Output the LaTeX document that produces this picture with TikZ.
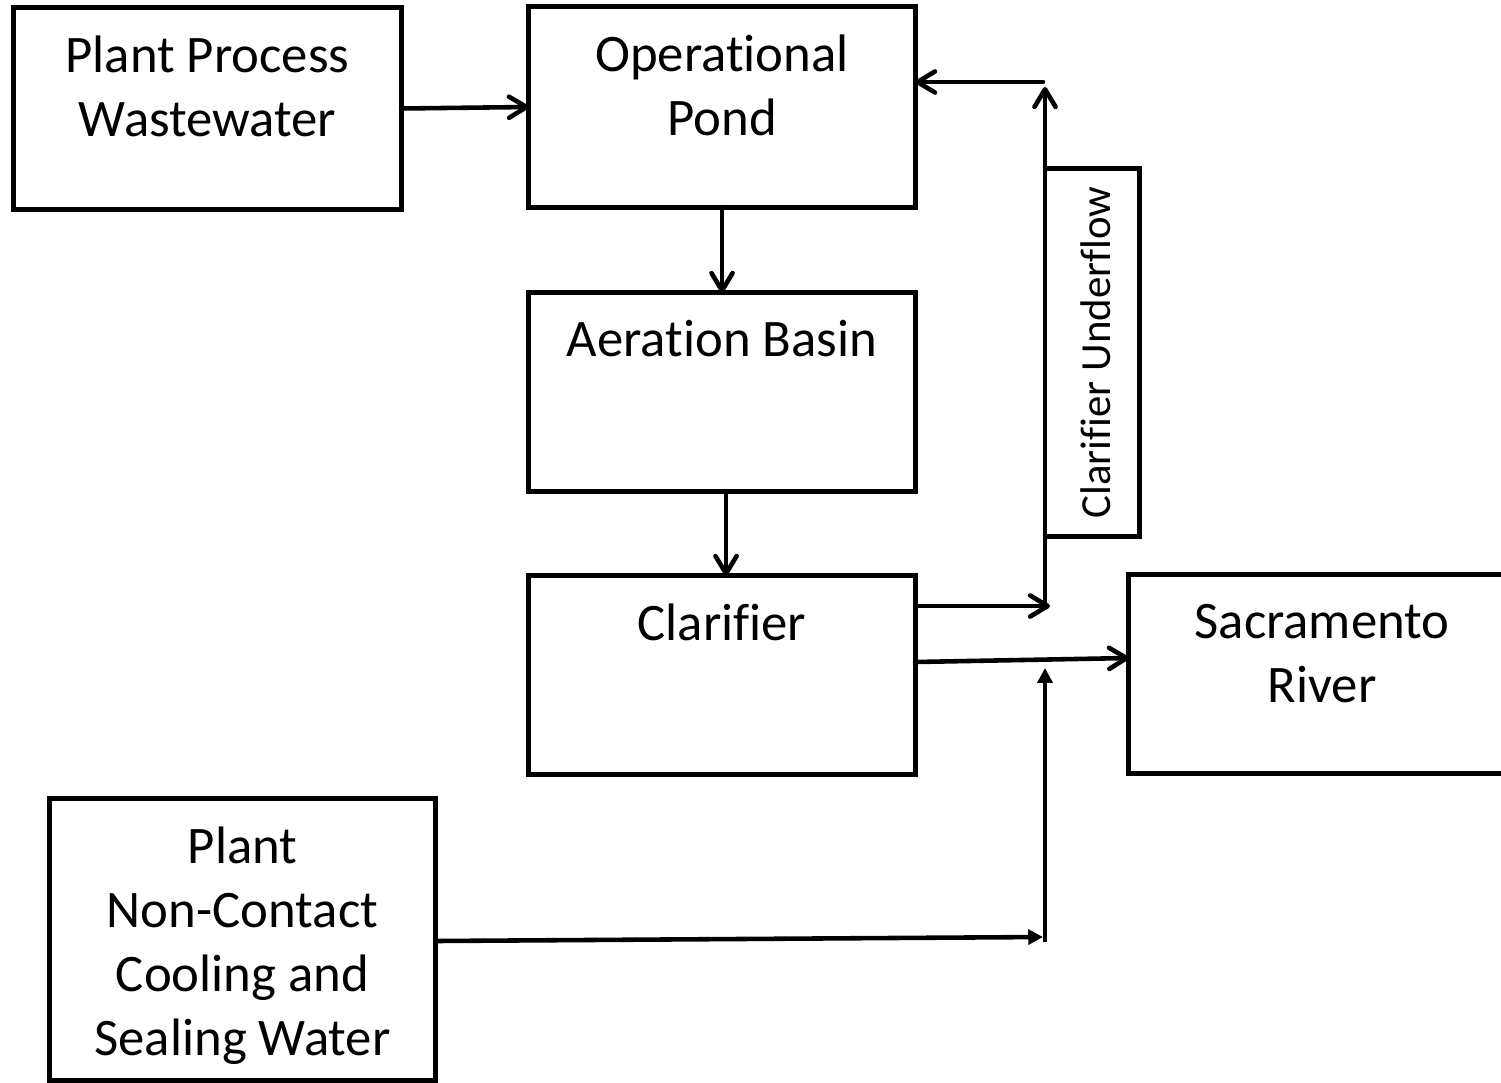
\documentclass[tikz,border=0pt]{standalone}
\usepackage{fontspec}
\setmainfont{Carlito}[Ligatures=NoCommon]
\usetikzlibrary{arrows.meta,positioning}
\tikzset{
  box/.style={draw,line width=1.4pt,rectangle,inner sep=0pt,outer sep=0pt},
  lbl/.style={align=center,inner sep=0pt,font=\fontsize{15}{18.2}\selectfont},
  flow/.style={line width=1.3pt,line cap=round,-{Straight Barb[length=5pt,width=6pt,line cap=round,round]}},
  feed/.style={line width=1.3pt,-{Triangle[length=4.2pt,width=4.2pt]}}
}

\begin{document}
\begin{tikzpicture}[x=0.01cm,y=-0.01cm]
\useasboundingbox (0,0) rectangle (1501,1082);
\node[box,minimum width=3.87cm,minimum height=2.01cm] (ppw) at (207.5,108.5) {};
\node[lbl,below=0.27cm of ppw.north] (ppwtxt) {Plant Process\\Wastewater};
\node[box,minimum width=3.86cm,minimum height=2.00cm] (op) at (722,107) {};
\node[lbl,below=0.27cm of op.north] (optxt) {Operational\\Pond};
\node[box,minimum width=3.86cm,minimum height=1.98cm] (ab) at (722,392) {};
\node[lbl,below=0.27cm of ab.north] (abtxt) {Aeration Basin};
\node[box,minimum width=3.86cm,minimum height=1.98cm] (cl) at (722,675) {};
\node[lbl,below=0.27cm of cl.north] (cltxt) {Clarifier};
\node[box,minimum width=0.94cm,minimum height=3.67cm] (cu) at (1092,352.5) {};
\node[lbl,rotate=90,font=\fontsize{12.2}{15}\selectfont] (cutxt) at (1096,352.5) {Clarifier Underflow};
\node[box,minimum width=3.86cm,minimum height=1.98cm] (sr) at (1322,674) {};
\node[lbl,below=0.29cm of sr.north] (srtxt) {Sacramento\\River};
\node[box,minimum width=3.85cm,minimum height=2.81cm] (nc) at (242.5,939.5) {};
\node[lbl,below=0.27cm of nc.north] (nctxt) {Plant\\Non-Contact\\Cooling and\\Sealing Water};

\coordinate (ufin) at (1050,606);
\coordinate (ufbot) at (1045,606);
\coordinate (uftop) at (1045,87);
\coordinate (ufret) at (1043,82);
\coordinate (rvout) at (915,662);
\coordinate (rvin) at (1129,658);
\coordinate (ncout) at (435,941);
\coordinate (ncin) at (1043,937);
\coordinate (ncbot) at (1045,942);
\coordinate (nctop) at (1045,668);

\draw[flow] (ppw.east) -- (op.west);
\draw[flow] (op.south) -- (ab.north);
\draw[flow] ([xshift=0.04cm]ab.south) -- ([xshift=0.04cm]cl.north);
\draw[flow] (cl.east |- ufin) -- (ufin);
\draw[flow] (ufbot) -- (uftop);
\draw[flow] (ufret) -- (op.east |- ufret);
\draw[flow] (rvout) -- (rvin);
\draw[feed] (ncout) -- (ncin);
\draw[feed] (ncbot) -- (nctop);
\end{tikzpicture}
\end{document}
